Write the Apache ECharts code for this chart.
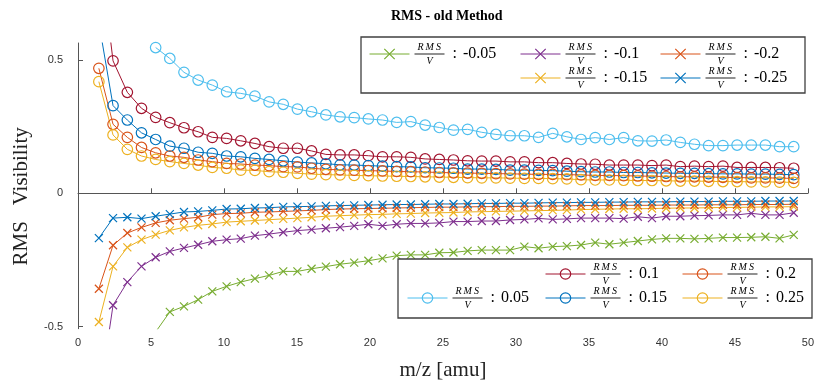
<!DOCTYPE html>
<html>
<head>
<meta charset="utf-8">
<script src="https://cdn.jsdelivr.net/npm/echarts@6/dist/echarts.min.js"></script>
<style>
html, body { margin: 0; padding: 0; background: #fff; }
#rmsChart { width: 817px; height: 387px; }
</style>
</head>
<body>
<div id="rmsChart"></div>
<script>
// m/z sample positions
const massAxis = [1.43, 2.40, 3.38, 4.35, 5.32, 6.29, 7.26, 8.23, 9.20, 10.18,
    11.15, 12.12, 13.09, 14.06, 15.03, 16.00, 16.98, 17.95, 18.92, 19.89,
    20.86, 21.83, 22.80, 23.78, 24.75, 25.72, 26.69, 27.66, 28.63, 29.60,
    30.58, 31.55, 32.52, 33.49, 34.46, 35.43, 36.40, 37.38, 38.35, 39.32,
    40.29, 41.26, 42.23, 43.20, 44.18, 45.15, 46.12, 47.09, 48.06, 49.03];

// positive RMS/V (circles)
const pos005 = [null, null, null, null, 0.547, 0.506, 0.454, 0.425, 0.406, 0.381,
    0.375, 0.365, 0.343, 0.334, 0.316, 0.306, 0.294, 0.287, 0.284, 0.279,
    0.275, 0.266, 0.269, 0.256, 0.247, 0.237, 0.240, 0.229, 0.221, 0.216,
    0.216, 0.210, 0.225, 0.212, 0.202, 0.209, 0.202, 0.209, 0.197, 0.196,
    0.200, 0.191, 0.184, 0.179, 0.179, 0.181, 0.181, 0.181, 0.175, 0.175];
const pos010 = [0.94, 0.497, 0.379, 0.319, 0.285, 0.265, 0.246, 0.231, 0.210, 0.206,
    0.197, 0.187, 0.175, 0.169, 0.169, 0.159, 0.146, 0.144, 0.144, 0.141,
    0.137, 0.137, 0.135, 0.129, 0.127, 0.125, 0.122, 0.121, 0.121, 0.118,
    0.118, 0.115, 0.115, 0.112, 0.110, 0.109, 0.106, 0.106, 0.106, 0.104,
    0.106, 0.100, 0.102, 0.100, 0.102, 0.097, 0.097, 0.097, 0.096, 0.094];
const pos015 = [0.64, 0.329, 0.275, 0.227, 0.202, 0.177, 0.169, 0.154, 0.150, 0.140,
    0.137, 0.131, 0.127, 0.122, 0.117, 0.114, 0.111, 0.107, 0.106, 0.104,
    0.102, 0.100, 0.099, 0.096, 0.095, 0.094, 0.091, 0.091, 0.090, 0.087,
    0.087, 0.086, 0.085, 0.083, 0.081, 0.080, 0.080, 0.078, 0.078, 0.077,
    0.076, 0.075, 0.075, 0.074, 0.073, 0.073, 0.072, 0.072, 0.071, 0.070];
const pos020 = [0.469, 0.259, 0.210, 0.172, 0.152, 0.140, 0.135, 0.125, 0.119, 0.112,
    0.110, 0.106, 0.104, 0.100, 0.099, 0.094, 0.090, 0.088, 0.087, 0.085,
    0.084, 0.082, 0.081, 0.080, 0.078, 0.077, 0.076, 0.075, 0.074, 0.073,
    0.072, 0.071, 0.071, 0.070, 0.069, 0.067, 0.067, 0.066, 0.065, 0.064,
    0.063, 0.062, 0.062, 0.061, 0.060, 0.059, 0.058, 0.058, 0.057, 0.056];
const pos025 = [0.419, 0.219, 0.165, 0.140, 0.127, 0.119, 0.112, 0.106, 0.097, 0.094,
    0.087, 0.086, 0.081, 0.079, 0.075, 0.072, 0.070, 0.069, 0.067, 0.066,
    0.065, 0.064, 0.063, 0.062, 0.061, 0.060, 0.059, 0.058, 0.058, 0.057,
    0.056, 0.056, 0.055, 0.054, 0.051, 0.050, 0.050, 0.049, 0.048, 0.048,
    0.047, 0.046, 0.046, 0.045, 0.044, 0.044, 0.043, 0.043, 0.042, 0.041];

// negative RMS/V (crosses)
const neg005 = [null, null, null, null, -0.52, -0.445, -0.424, -0.399, -0.368, -0.349,
    -0.333, -0.320, -0.308, -0.293, -0.293, -0.283, -0.275, -0.266, -0.260, -0.253,
    -0.244, -0.234, -0.231, -0.231, -0.223, -0.222, -0.216, -0.213, -0.213, -0.213,
    -0.200, -0.206, -0.200, -0.198, -0.194, -0.185, -0.191, -0.185, -0.179, -0.173,
    -0.169, -0.169, -0.171, -0.169, -0.166, -0.166, -0.165, -0.163, -0.169, -0.156];
const neg010 = [-0.78, -0.420, -0.333, -0.274, -0.240, -0.218, -0.205, -0.193, -0.180, -0.174,
    -0.170, -0.159, -0.153, -0.146, -0.140, -0.136, -0.131, -0.127, -0.122, -0.116,
    -0.122, -0.116, -0.113, -0.113, -0.111, -0.106, -0.106, -0.104, -0.104, -0.100,
    -0.098, -0.094, -0.098, -0.096, -0.093, -0.093, -0.093, -0.095, -0.088, -0.093,
    -0.086, -0.086, -0.084, -0.083, -0.081, -0.081, -0.075, -0.081, -0.081, -0.073];
const neg015 = [-0.483, -0.274, -0.203, -0.174, -0.155, -0.139, -0.128, -0.120, -0.115, -0.108,
    -0.105, -0.102, -0.099, -0.096, -0.093, -0.090, -0.086, -0.084, -0.082, -0.080,
    -0.079, -0.077, -0.076, -0.074, -0.073, -0.072, -0.070, -0.069, -0.068, -0.067,
    -0.066, -0.065, -0.064, -0.063, -0.061, -0.060, -0.059, -0.058, -0.058, -0.057,
    -0.056, -0.055, -0.055, -0.054, -0.053, -0.053, -0.052, -0.051, -0.051, -0.050];
const neg020 = [-0.358, -0.195, -0.149, -0.128, -0.111, -0.101, -0.095, -0.090, -0.080, -0.076,
    -0.075, -0.071, -0.070, -0.068, -0.066, -0.064, -0.061, -0.059, -0.058, -0.057,
    -0.056, -0.055, -0.054, -0.053, -0.052, -0.052, -0.051, -0.050, -0.050, -0.049,
    -0.049, -0.048, -0.048, -0.047, -0.046, -0.046, -0.046, -0.045, -0.045, -0.045,
    -0.044, -0.044, -0.044, -0.043, -0.043, -0.043, -0.042, -0.042, -0.042, -0.041];
const neg025 = [-0.168, -0.093, -0.090, -0.095, -0.086, -0.078, -0.070, -0.068, -0.064, -0.059,
    -0.058, -0.055, -0.054, -0.051, -0.050, -0.049, -0.047, -0.046, -0.045, -0.044,
    -0.043, -0.042, -0.042, -0.041, -0.040, -0.040, -0.039, -0.038, -0.038, -0.037,
    -0.037, -0.036, -0.035, -0.035, -0.034, -0.034, -0.033, -0.033, -0.032, -0.032,
    -0.032, -0.031, -0.031, -0.031, -0.030, -0.030, -0.030, -0.029, -0.029, -0.029];

const yTicks = [-0.5, 0, 0.5];

const crossSymbol = 'path://M0,0L10,10M10,0L0,10';

const makeSeries = (name, values, color, isCircle) => ({
    name: name,
    type: 'line',
    data: values.map((v, i) => [massAxis[i], v]),
    symbol: isCircle ? 'circle' : crossSymbol,
    symbolSize: isCircle ? 10.5 : 8,
    showAllSymbol: true,
    lineStyle: { color: color, width: 1 },
    itemStyle: {
        color: isCircle ? 'rgba(0,0,0,0)' : color,
        borderColor: color,
        borderWidth: 1.2,
    },
    emphasis: { disabled: true },
    animation: false,
    z: 2,
});

// fraction RMS / V drawn with rich text, then ": value"
const legendText = {
    color: '#000',
    fontFamily: 'Liberation Serif',
    rich: {
        n: { fontSize: 10, fontStyle: 'italic', fontFamily: 'Liberation Serif', lineHeight: 10, padding: [0, 0, 0, 3] },
        b: { width: 30, height: 1, lineHeight: 4, backgroundColor: '#222', fontSize: 1 },
        c: { fontSize: 16, fontFamily: 'Liberation Serif', lineHeight: 4, padding: [0, 0, 0, 8] },
        v: { fontSize: 16, fontFamily: 'Liberation Serif', lineHeight: 4, padding: [0, 0, 0, 6] },
        d: { fontSize: 10, fontStyle: 'italic', fontFamily: 'Liberation Serif', lineHeight: 10, padding: [0, 0, 0, 12] },
    },
};

const makeLegend = (names, left, top) => ({
    data: names,
    orient: 'vertical',
    left: left,
    top: top,
    padding: 0,
    itemGap: 0,
    itemWidth: 40,
    itemHeight: 13,
    selectedMode: false,
    lineStyle: { width: 1 },
    itemStyle: { borderWidth: 1.2 },
    textStyle: legendText,
    formatter: (name) => '{n|R\u2009M\u2009S}\n{b| }{c|:}{v|' + name + '}\n{d|V}',
    z: 20,
});

const chart = echarts.init(document.getElementById('rmsChart'));

const option = {
    backgroundColor: '#fff',
    animation: false,
    title: {
        text: 'RMS - old Method',
        left: 386,
        top: 4,
        textStyle: { fontFamily: 'Liberation Serif', fontWeight: 'bold', fontSize: 14, color: '#000' },
    },
    grid: { left: 78, right: 5.5, top: 43, bottom: 58.3 },
    xAxis: {
        type: 'value',
        min: 0,
        max: 50,
        interval: 5,
        name: 'm/z [amu]',
        nameLocation: 'middle',
        nameGap: 31,
        nameTextStyle: { fontFamily: 'Liberation Serif', fontSize: 21, color: '#222' },
        axisLine: { lineStyle: { color: '#555', width: 1 } },
        axisTick: { inside: true, length: 5, lineStyle: { color: '#555' } },
        axisLabel: { margin: 9, fontFamily: 'Liberation Sans', fontSize: 11, color: '#333' },
        splitLine: { show: false },
    },
    yAxis: {
        type: 'value',
        min: -0.508,
        max: 0.564,
        name: 'RMS   Visibility    ',
        nameLocation: 'middle',
        nameGap: 46,
        nameTextStyle: { fontFamily: 'Liberation Serif', fontSize: 21, color: '#222' },
        axisLine: { show: true, lineStyle: { color: '#555', width: 1 } },
        axisTick: { show: true, inside: true, length: 5, customValues: yTicks, lineStyle: { color: '#555' } },
        axisLabel: { margin: 15, customValues: yTicks, fontFamily: 'Liberation Sans', fontSize: 11, color: '#333' },
        splitLine: { show: false },
    },
    legend: [
        makeLegend(['-0.05'], 369, 42),
        makeLegend(['-0.1', '-0.15'], 520, 42),
        makeLegend(['-0.2', '-0.25'], 660, 42),
        makeLegend(['0.05'], 407, 286),
        makeLegend(['0.1', '0.15'], 545, 262),
        makeLegend(['0.2', '0.25'], 682, 262),
    ],
    graphic: [
        { type: 'rect', shape: { x: 361, y: 37, width: 444, height: 56 }, style: { fill: '#fff', stroke: '#404040', lineWidth: 1.3 }, z: 10 },
        { type: 'rect', shape: { x: 398, y: 259, width: 414, height: 59 }, style: { fill: '#fff', stroke: '#404040', lineWidth: 1.3 }, z: 10 },
    ],
    series: [
        makeSeries('0.05', pos005, '#4DBEEE', true),
        makeSeries('0.1', pos010, '#A2142F', true),
        makeSeries('0.15', pos015, '#0072BD', true),
        makeSeries('0.2', pos020, '#D95319', true),
        makeSeries('0.25', pos025, '#EDB120', true),
        makeSeries('-0.05', neg005, '#77AC30', false),
        makeSeries('-0.1', neg010, '#7E2F8E', false),
        makeSeries('-0.15', neg015, '#EDB120', false),
        makeSeries('-0.2', neg020, '#D95319', false),
        makeSeries('-0.25', neg025, '#0072BD', false),
    ],
};

chart.setOption(option);
</script>
</body>
</html>
